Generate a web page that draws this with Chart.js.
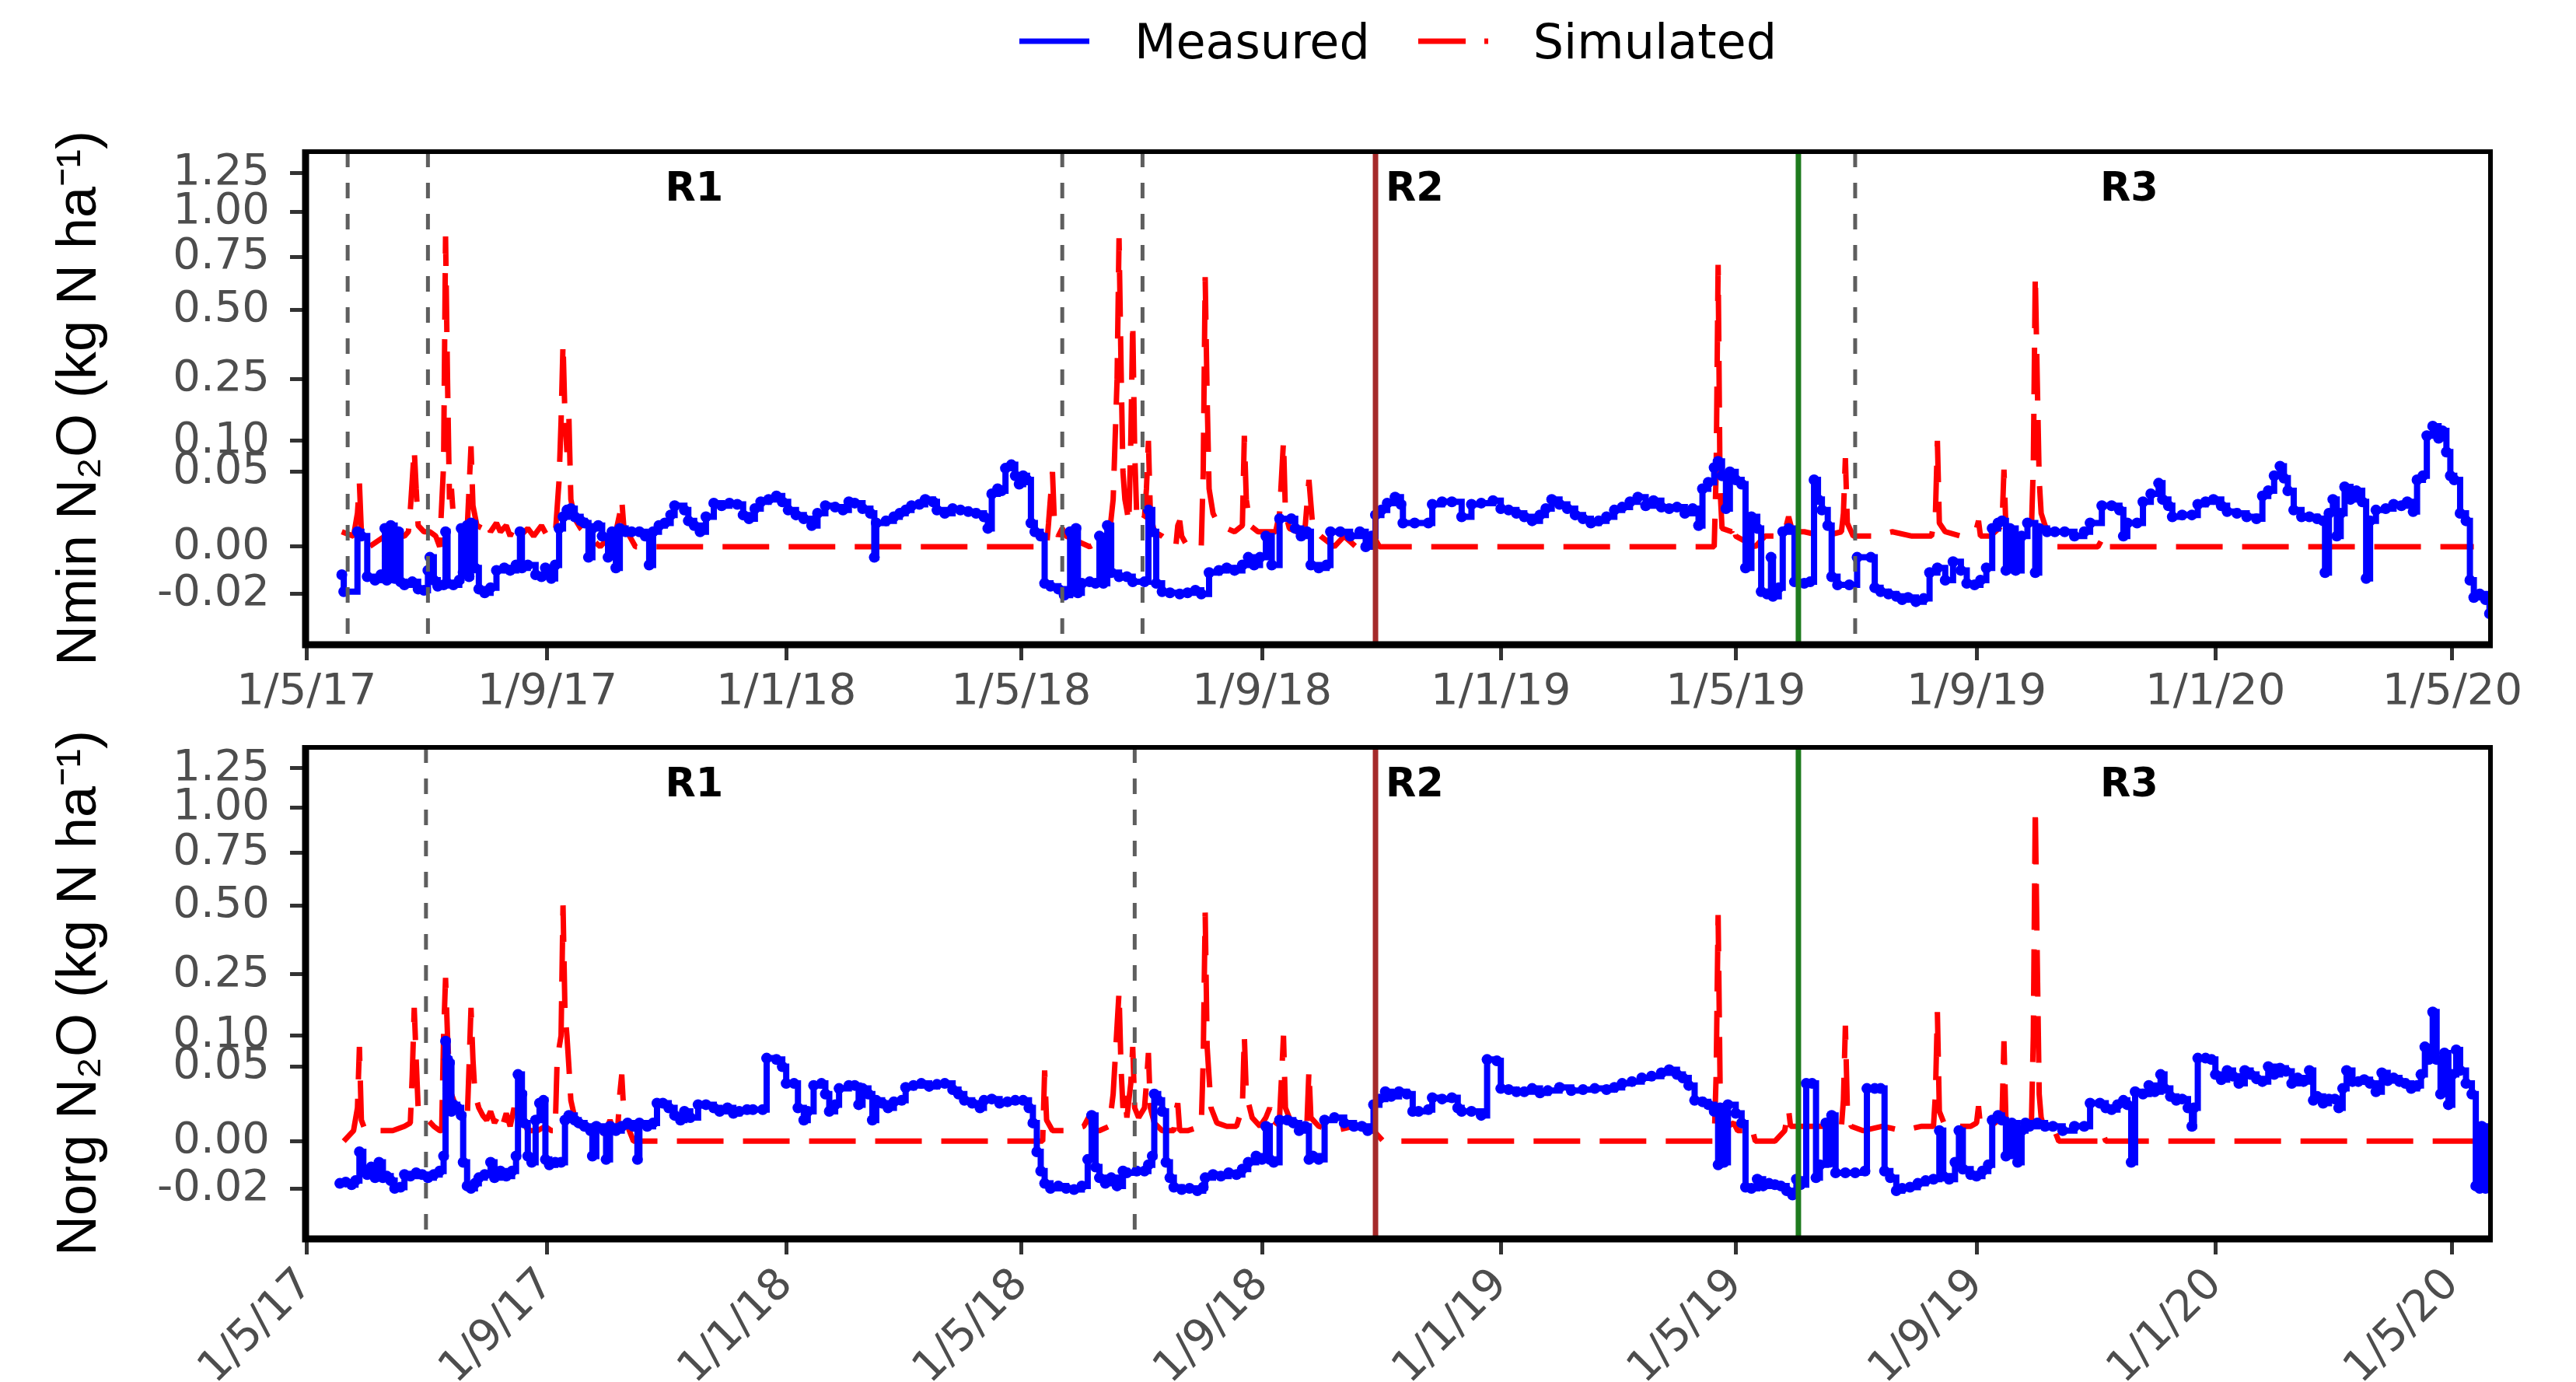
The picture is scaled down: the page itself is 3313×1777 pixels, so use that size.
<!DOCTYPE html>
<html lang="en">
<head>
<meta charset="UTF-8" />
<title>Measured vs simulated N2O flux</title>
<script src="https://cdn.jsdelivr.net/npm/chart.js"></script>
<style>
  html, body { margin: 0; padding: 0; background: #fff; }
  #wrap { position: relative; width: 3313px; height: 1777px; }
  #legend {
    position: absolute; left: 393px; width: 2810px; top: 0; height: 106px;
    display: flex; justify-content: center; align-items: center;
    font-family: 'DejaVu Sans', sans-serif; font-size: 62px; color: #000;
  }
  .key { display: flex; align-items: center; }
  .key svg { margin-right: 58px; }
  .key + .key { margin-left: 62px; }
  canvas { position: absolute; left: 0; }
  #top { top: 0; }
  #bottom { top: 930px; }
</style>
</head>
<body>
<div id="wrap">
  <div id="legend">
    <div class="key"><svg width="90" height="20"><line x1="0" y1="10" x2="90" y2="10" stroke="#0000ff" stroke-width="7"/></svg><span>Measured</span></div>
    <div class="key"><svg width="90" height="20"><line x1="0" y1="10" x2="90" y2="10" stroke="#ff0000" stroke-width="7" stroke-dasharray="61 24"/></svg><span>Simulated</span></div>
  </div>
  <canvas id="top" width="3313" height="930"></canvas>
  <canvas id="bottom" width="3313" height="847"></canvas>
</div>
<script>
// x values are days since 1 May 2017, y values in kg N ha-1
const tickDates = ['2017-05-01', '2017-09-01', '2018-01-01', '2018-05-01', '2018-09-01',
                   '2019-01-01', '2019-05-01', '2019-09-01', '2020-01-01', '2020-05-01'];
const yTicks = [-0.02, 0, 0.05, 0.10, 0.25, 0.50, 0.75, 1.00, 1.25];

const nminLines = ['2017-05-22', '2017-07-02', '2018-05-22', '2018-07-02', '2019-07-01'];
const norgLines = ['2017-07-01', '2018-06-28'];
const rotationStarts = ['2018-10-29', '2019-06-02'];   // R2, R3
const regionLabels = ['R1', 'R2', 'R3'];
const regionLabelDates = ['2017-11-15', '2018-11-18', '2019-11-18'];

const nminMeasured = [
  [18,-0.007],[19,-0.018],[26,0.002],[28,0.001],[31,-0.008],[35,-0.010],[38,-0.007],[40,0.003],
  [41,-0.010],[43,0.004],[45,-0.009],[47,0.002],[48,-0.011],[50,-0.013],[54,-0.011],[57,-0.016],
  [60,-0.017],[62,-0.005],[63,-0.001],[65,-0.010],[67,-0.014],[70,-0.013],[71,0.002],[72,-0.012],
  [75,-0.013],[78,-0.010],[79,0.003],[80,-0.006],[82,0.004],[83,-0.008],[84,0.005],[86,-0.004],
  [88,-0.016],[91,-0.019],[94,-0.015],[97,-0.005],[101,-0.004],[104,-0.005],[107,-0.003],[109,0.002],
  [110,-0.004],[113,-0.003],[117,-0.007],[120,-0.008],[122,-0.004],[125,-0.009],[127,-0.003],[129,0.003],
  [131,0.008],[133,0.012],[135,0.013],[137,0.008],[140,0.006],[142,0.005],[144,-0.001],[146,0.003],
  [149,0.004],[151,0.001],[154,-0.001],[156,0.002],[158,-0.004],[160,0.003],[163,0.002],[166,0.002],
  [170,0.002],[173,0.001],[175,-0.003],[177,0.002],[180,0.004],[183,0.005],[186,0.009],[188,0.015],
  [193,0.012],[195,0.006],[198,0.004],[201,0.002],[204,0.008],[208,0.017],[212,0.015],[216,0.017],
  [220,0.016],[223,0.009],[226,0.007],[229,0.013],[232,0.018],[236,0.020],[240,0.023],[243,0.018],
  [246,0.012],[250,0.009],[254,0.007],[258,0.004],[261,0.010],[265,0.015],[270,0.014],[274,0.012],
  [277,0.018],[280,0.017],[284,0.013],[288,0.010],[290,-0.001],[291,0.005],[296,0.006],[300,0.008],
  [303,0.010],[306,0.012],[309,0.015],[313,0.016],[316,0.020],[320,0.018],[322,0.012],[326,0.010],
  [330,0.013],[334,0.012],[338,0.011],[342,0.010],[346,0.008],[348,0.003],[350,0.025],[353,0.030],
  [355,0.028],[357,0.055],[360,0.060],[362,0.045],[364,0.035],[366,0.045],[368,0.040],[370,0.005],
  [372,0.002],[375,0.001],[377,-0.012],[380,-0.014],[384,-0.016],[387,-0.021],[390,0.002],[391,-0.018],
  [393,0.003],[394,-0.019],[396,-0.012],[400,-0.011],[403,-0.012],[405,0.001],[407,-0.012],[409,0.004],
  [411,-0.006],[415,-0.008],[419,-0.008],[422,-0.011],[428,-0.011],[430,0.012],[432,0.002],[434,-0.012],
  [437,-0.018],[441,-0.019],[446,-0.020],[450,-0.019],[454,-0.017],[457,-0.020],[461,-0.006],[466,-0.005],
  [470,-0.004],[474,-0.005],[478,-0.003],[481,-0.001],[484,-0.003],[487,-0.001],[490,0.001],[493,-0.003],
  [497,0.007],[503,0.007],[505,0.003],[508,0.001],[511,0.002],[513,-0.003],[517,-0.004],[521,-0.003],
  [523,0.002],[528,0.002],[533,0.001],[538,0.002],[541,0.000],[544,0.001],[546,0.009],[549,0.012],
  [552,0.017],[556,0.022],[559,0.016],[560,0.005],[566,0.005],[573,0.005],[575,0.016],[580,0.018],
  [585,0.018],[590,0.008],[595,0.016],[600,0.017],[606,0.019],[610,0.013],[614,0.012],[618,0.010],
  [622,0.008],[626,0.006],[630,0.009],[633,0.013],[636,0.020],[640,0.016],[644,0.013],[648,0.009],
  [652,0.007],[656,0.005],[660,0.006],[664,0.008],[668,0.012],[672,0.014],[676,0.018],[680,0.022],
  [684,0.015],[688,0.019],[692,0.014],[696,0.013],[700,0.014],[704,0.010],[708,0.013],[711,0.004],
  [713,0.030],[716,0.037],[719,0.056],[721,0.065],[723,0.045],[725,0.013],[727,0.050],[730,0.040],
  [733,0.035],[735,-0.004],[738,0.008],[741,0.003],[743,-0.018],[746,-0.020],[748,-0.001],[749,-0.022],
  [752,-0.015],[754,0.002],[757,0.003],[760,-0.011],[765,-0.012],[768,-0.011],[770,0.040],[772,0.020],
  [774,0.012],[777,0.004],[779,-0.008],[782,-0.013],[788,-0.013],[792,-0.001],[799,-0.001],[801,-0.015],
  [804,-0.018],[808,-0.020],[812,-0.022],[815,-0.025],[818,-0.023],[822,-0.027],[826,-0.024],[829,-0.006],
  [833,-0.004],[837,-0.010],[841,-0.002],[845,-0.005],[848,-0.012],[852,-0.013],[855,-0.010],[858,-0.004],
  [861,0.003],[864,0.005],[866,0.006],[868,-0.005],[870,0.003],[873,-0.005],[876,0.001],[879,0.005],
  [883,-0.006],[885,0.003],[889,0.002],[893,0.002],[898,0.002],[903,0.001],[908,0.002],[911,0.005],
  [917,0.015],[922,0.015],[926,0.012],[928,0.001],[930,0.005],[935,0.005],[938,0.018],[942,0.025],
  [946,0.036],[948,0.020],[951,0.015],[953,0.008],[958,0.009],[963,0.009],[966,0.016],[970,0.018],
  [974,0.020],[978,0.015],[981,0.011],[986,0.010],[991,0.008],[996,0.007],[999,0.023],[1002,0.028],
  [1005,0.045],[1008,0.058],[1010,0.042],[1012,0.028],[1015,0.012],[1019,0.008],[1023,0.008],[1027,0.007],
  [1030,0.006],[1031,-0.006],[1033,0.010],[1035,0.020],[1037,0.001],[1039,0.010],[1041,0.032],[1044,0.020],
  [1047,0.028],[1050,0.018],[1052,-0.009],[1054,0.006],[1057,0.012],[1062,0.013],[1066,0.016],[1070,0.015],
  [1073,0.018],[1076,0.011],[1078,0.040],[1081,0.045],[1083,0.110],[1086,0.130],[1089,0.105],[1091,0.120],
  [1093,0.080],[1095,0.045],[1097,0.040],[1100,0.010],[1103,0.006],[1105,-0.010],[1107,-0.023],[1110,-0.020],
  [1113,-0.025],[1115,-0.040]
];

const nminSimulated = [
  [18,0.002],[24,0.001],[26,0.010],[27,0.036],[28,0.002],[32,0.000],[40,0.001],[45,0.001],[50,0.001],
  [52,0.002],[53,0.012],[54,0.040],[55,0.085],[56,0.030],[57,0.004],[60,0.002],[63,0.002],[66,0.001],
  [68,0.000],[70,0.060],[71,0.860],[72,0.250],[73,0.020],[74,0.030],[75,0.008],[78,0.005],[80,0.003],
  [82,0.002],[83,0.030],[84,0.090],[85,0.015],[87,0.004],[90,0.003],[92,0.006],[94,0.002],[97,0.005],
  [99,0.002],[102,0.004],[104,0.001],[107,0.005],[109,0.001],[113,0.003],[116,0.001],[120,0.004],
  [123,0.001],[127,0.001],[129,0.040],[130,0.140],[131,0.370],[132,0.150],[133,0.080],[134,0.150],
  [135,0.020],[137,0.007],[140,0.003],[144,0.001],[150,0.000],[155,0.001],[158,0.002],[160,0.010],
  [161,0.020],[162,0.004],[165,0.001],[168,0.000],[378,0.000],[379,0.005],[381,0.050],[382,0.005],
  [384,0.001],[386,0.003],[388,0.001],[400,0.000],[410,0.001],[412,0.020],[414,0.250],[415,0.850],
  [416,0.300],[417,0.050],[418,0.020],[419,0.012],[420,0.005],[421,0.100],[422,0.450],[423,0.080],
  [424,0.010],[426,0.005],[428,0.008],[429,0.030],[430,0.100],[431,0.010],[433,0.002],[437,0.001],
  [444,0.000],[445,0.004],[446,0.006],[447,0.001],[450,0.000],[457,0.000],[458,0.050],[459,0.650],
  [460,0.200],[461,0.030],[463,0.010],[466,0.004],[470,0.003],[474,0.002],[478,0.004],[479,0.110],
  [480,0.020],[482,0.004],[486,0.002],[490,0.002],[495,0.002],[497,0.010],[499,0.100],[500,0.010],
  [502,0.003],[506,0.002],[510,0.003],[512,0.040],[514,0.003],[518,0.001],[525,0.000],[530,0.001],
  [536,0.000],[545,0.001],[548,0.000],[719,0.000],[720,0.050],[721,0.710],[722,0.030],[723,0.003],
  [728,0.002],[729,0.005],[730,0.001],[740,0.000],[745,0.001],[752,0.001],[755,0.002],[757,0.008],
  [759,0.002],[765,0.002],[775,0.001],[784,0.002],[785,0.010],[786,0.070],[787,0.005],[790,0.001],
  [800,0.001],[810,0.002],[820,0.001],[830,0.001],[832,0.010],[833,0.100],[834,0.005],[837,0.002],
  [845,0.001],[850,0.002],[853,0.003],[854,0.006],[855,0.001],[860,0.001],[866,0.004],[867,0.053],
  [868,0.003],[872,0.001],[878,0.001],[881,0.002],[882,0.060],[883,0.660],[884,0.250],[885,0.040],
  [886,0.010],[888,0.004],[890,0.002],[893,0.000],[915,0.000],[918,0.001],[920,0.000],[1107,0.000]
];

const norgMeasured = [
  [17,-0.016],[20,-0.015],[23,-0.017],[25,-0.014],[27,-0.001],[29,-0.008],[31,-0.010],[33,-0.006],
  [35,-0.012],[37,-0.004],[39,-0.012],[41,-0.011],[43,-0.014],[45,-0.020],[48,-0.019],[50,-0.010],
  [53,-0.011],[56,-0.009],[59,-0.010],[62,-0.012],[65,-0.010],[68,-0.008],[70,-0.002],[71,0.090],
  [72,0.060],[73,0.055],[74,0.008],[75,0.012],[77,0.010],[79,0.006],[80,-0.004],[82,-0.018],
  [84,-0.020],[86,-0.016],[88,-0.012],[91,-0.010],[94,-0.004],[96,-0.012],[99,-0.008],[102,-0.011],
  [105,-0.008],[107,-0.002],[108,0.040],[110,0.020],[111,0.003],[113,-0.002],[115,-0.004],[117,0.004],
  [119,0.013],[121,0.015],[122,-0.003],[124,-0.005],[127,-0.004],[130,-0.004],[132,0.004],[134,0.006],
  [137,0.004],[139,0.003],[142,0.002],[145,0.001],[146,-0.002],[148,0.002],[152,0.001],[153,-0.003],
  [155,0.002],[158,0.001],[161,0.002],[164,0.003],[167,0.002],[169,-0.003],[170,0.003],[174,0.002],
  [177,0.003],[179,0.013],[182,0.013],[185,0.010],[188,0.006],[191,0.004],[193,0.008],[196,0.005],
  [200,0.012],[204,0.012],[208,0.010],[211,0.008],[215,0.010],[218,0.007],[221,0.008],[225,0.009],
  [228,0.009],[233,0.009],[235,0.062],[240,0.060],[243,0.050],[245,0.030],[249,0.030],[251,0.010],
  [254,0.004],[256,0.008],[259,0.028],[263,0.030],[265,0.020],[267,0.008],[270,0.012],[272,0.025],
  [277,0.028],[280,0.028],[282,0.012],[284,0.025],[287,0.020],[289,0.004],[291,0.015],[294,0.013],
  [297,0.010],[300,0.014],[304,0.015],[306,0.026],[310,0.028],[314,0.030],[318,0.027],[322,0.029],
  [326,0.030],[330,0.024],[333,0.020],[336,0.015],[340,0.013],[344,0.010],[346,0.015],[350,0.016],
  [354,0.013],[358,0.014],[362,0.015],[366,0.015],[369,0.010],[371,0.003],[373,-0.001],[375,-0.008],
  [377,-0.016],[380,-0.020],[384,-0.018],[388,-0.020],[392,-0.021],[396,-0.018],[399,-0.003],[401,0.006],
  [403,-0.006],[405,-0.012],[408,-0.016],[411,-0.012],[414,-0.018],[417,-0.008],[419,-0.009],[424,-0.008],
  [428,-0.008],[430,-0.005],[432,-0.002],[433,0.020],[435,0.015],[437,0.008],[439,-0.004],[441,-0.012],
  [443,-0.019],[447,-0.021],[451,-0.020],[455,-0.022],[458,-0.019],[459,-0.012],[463,-0.010],[467,-0.011],
  [471,-0.009],[475,-0.010],[478,-0.007],[481,-0.004],[485,-0.002],[488,-0.003],[490,0.002],[492,-0.003],
  [494,-0.004],[497,0.004],[501,0.004],[504,0.003],[507,0.001],[510,0.002],[512,-0.003],[514,-0.002],
  [517,-0.003],[520,0.004],[525,0.005],[530,0.003],[535,0.002],[539,0.002],[542,0.001],[545,0.012],
  [548,0.016],[551,0.022],[554,0.018],[558,0.022],[562,0.020],[565,0.008],[568,0.008],[573,0.009],
  [575,0.017],[580,0.016],[585,0.017],[588,0.010],[590,0.008],[595,0.008],[600,0.006],[603,0.060],
  [608,0.058],[610,0.025],[614,0.024],[618,0.022],[622,0.022],[626,0.025],[630,0.021],[634,0.023],
  [640,0.026],[646,0.023],[652,0.024],[658,0.025],[664,0.024],[668,0.026],[672,0.030],[677,0.032],
  [682,0.036],[687,0.038],[692,0.042],[696,0.046],[700,0.040],[703,0.036],[706,0.028],[709,0.015],
  [713,0.014],[716,0.012],[719,0.008],[721,-0.005],[722,0.010],[724,-0.004],[726,0.012],[730,0.007],
  [733,0.003],[735,-0.019],[738,-0.020],[741,-0.013],[744,-0.018],[747,-0.016],[750,-0.017],[753,-0.018],
  [756,-0.022],[759,-0.026],[761,-0.013],[763,-0.017],[766,0.030],[769,0.030],[771,-0.012],[773,-0.005],
  [776,0.003],[778,-0.004],[779,0.006],[781,-0.009],[786,-0.009],[791,-0.009],[796,-0.008],[797,0.025],
  [801,0.025],[804,0.025],[806,-0.008],[809,-0.012],[812,-0.022],[815,-0.020],[819,-0.019],[823,-0.016],
  [827,-0.014],[831,-0.013],[834,0.001],[836,-0.011],[839,-0.013],[842,-0.004],[844,0.001],[846,-0.007],
  [850,-0.010],[853,-0.011],[856,-0.008],[859,-0.005],[861,0.004],[864,0.006],[866,0.004],[868,-0.002],
  [871,0.003],[874,-0.004],[876,0.001],[878,0.003],[880,0.002],[884,0.003],[888,0.002],[892,0.002],
  [897,0.001],[903,0.002],[908,0.002],[911,0.013],[916,0.013],[919,0.010],[922,0.009],[925,0.012],
  [928,0.015],[930,0.012],[932,-0.004],[934,0.022],[938,0.020],[941,0.028],[944,0.022],[947,0.040],
  [949,0.025],[952,0.018],[955,0.015],[958,0.016],[961,0.010],[963,0.002],[964,0.010],[966,0.062],
  [970,0.062],[973,0.060],[975,0.040],[978,0.034],[981,0.045],[984,0.038],[987,0.030],[990,0.045],
  [993,0.040],[996,0.035],[999,0.032],[1002,0.050],[1005,0.040],[1008,0.048],[1011,0.044],[1014,0.030],
  [1017,0.036],[1020,0.032],[1023,0.045],[1025,0.015],[1027,0.018],[1030,0.013],[1033,0.016],[1036,0.016],
  [1038,0.010],[1040,0.025],[1042,0.045],[1045,0.032],[1048,0.032],[1051,0.034],[1054,0.030],[1057,0.022],
  [1060,0.042],[1063,0.033],[1066,0.036],[1069,0.032],[1072,0.030],[1075,0.025],[1078,0.028],[1080,0.040],
  [1082,0.080],[1084,0.060],[1086,0.150],[1088,0.060],[1090,0.020],[1092,0.070],[1094,0.012],[1096,0.040],
  [1098,0.075],[1100,0.045],[1103,0.030],[1106,0.020],[1108,-0.018],[1110,-0.020],[1111,0.002],[1113,-0.020],
  [1115,-0.018]
];

const norgSimulated = [
  [19,0.000],[24,0.001],[26,0.010],[27,0.080],[28,0.004],[30,0.001],[38,0.001],[44,0.001],[50,0.002],
  [53,0.003],[54,0.040],[55,0.160],[56,0.060],[57,0.010],[59,0.008],[62,0.004],[65,0.002],[68,0.001],
  [69,0.001],[70,0.100],[71,0.240],[72,0.100],[73,0.040],[74,0.020],[76,0.012],[78,0.007],[80,0.005],
  [82,0.003],[83,0.050],[84,0.160],[85,0.060],[86,0.020],[88,0.010],[90,0.006],[92,0.004],[94,0.008],
  [96,0.003],[98,0.006],[100,0.002],[102,0.007],[104,0.002],[106,0.010],[107,0.002],[110,0.005],
  [113,0.001],[118,0.001],[122,0.002],[125,0.001],[127,0.001],[128,0.060],[130,0.100],[131,0.500],
  [132,0.150],[133,0.100],[134,0.050],[135,0.015],[137,0.005],[140,0.002],[145,0.001],[150,0.000],
  [153,0.001],[155,0.004],[157,0.001],[159,0.002],[160,0.020],[161,0.040],[162,0.008],[164,0.002],
  [167,0.000],[376,0.000],[377,0.045],[378,0.004],[381,0.001],[390,0.001],[397,0.002],[400,0.006],
  [401,0.001],[405,0.001],[410,0.002],[412,0.020],[414,0.120],[415,0.200],[416,0.050],[417,0.010],
  [418,0.020],[419,0.005],[421,0.030],[422,0.080],[423,0.010],[425,0.005],[428,0.010],[429,0.030],
  [430,0.070],[431,0.010],[433,0.003],[437,0.001],[443,0.001],[444,0.008],[445,0.013],[446,0.001],
  [450,0.001],[457,0.002],[458,0.060],[459,0.470],[460,0.080],[462,0.010],[465,0.003],[470,0.002],
  [475,0.002],[478,0.010],[479,0.100],[480,0.020],[483,0.005],[487,0.002],[490,0.005],[492,0.010],
  [494,0.002],[497,0.005],[499,0.100],[500,0.010],[503,0.003],[507,0.002],[511,0.003],[512,0.045],
  [513,0.005],[517,0.002],[525,0.001],[535,0.002],[545,0.001],[550,0.000],[719,0.000],[720,0.040],
  [721,0.460],[722,0.030],[723,0.003],[726,0.002],[729,0.003],[731,0.001],[736,0.001],[738,0.002],
  [740,0.000],[750,0.000],[755,0.001],[757,0.009],[758,0.002],[762,0.002],[770,0.002],[780,0.002],
  [784,0.002],[785,0.015],[786,0.120],[787,0.010],[789,0.002],[795,0.001],[805,0.002],[815,0.001],
  [825,0.002],[831,0.002],[832,0.020],[833,0.150],[834,0.008],[837,0.002],[845,0.002],[850,0.002],
  [853,0.003],[854,0.011],[855,0.002],[860,0.002],[866,0.005],[867,0.090],[868,0.004],[872,0.001],
  [878,0.001],[881,0.002],[882,0.100],[883,1.000],[884,0.300],[885,0.020],[886,0.005],[888,0.001],
  [892,0.002],[895,0.000],[915,0.000],[917,0.001],[919,0.000],[1111,0.000]
];

const DAY = 86400000;
const ORIGIN = Date.UTC(2017, 4, 1);
function dayOf(iso) {
  const [y, m, d] = iso.split('-').map(Number);
  return (Date.UTC(y, m - 1, d) - ORIGIN) / DAY;
}
function shortDate(iso) {
  const [y, m, d] = iso.split('-').map(Number);
  return d + '/' + m + '/' + String(y).slice(2);
}
// signed square-root axis, as in the original figure
const sq = v => Math.sign(v) * Math.sqrt(Math.abs(v));

const tickDays = tickDates.map(dayOf);
const tickFont = { family: 'DejaVu Sans', size: 56 };
const greyText = '#4d4d4d';

// grey management lines, rotation boundaries and R labels
const markers = {
  id: 'markers',
  afterDatasetsDraw(chart, args, opts) {
    const { ctx, chartArea: a, scales: { x } } = chart;
    ctx.save();
    ctx.beginPath();
    ctx.rect(a.left, a.top, a.right - a.left, a.bottom - a.top);
    ctx.clip();
    const vline = (day, color, width, dash) => {
      const px = x.getPixelForValue(day);
      ctx.beginPath();
      ctx.setLineDash(dash);
      ctx.strokeStyle = color;
      ctx.lineWidth = width;
      ctx.moveTo(px, a.top);
      ctx.lineTo(px, a.bottom);
      ctx.stroke();
    };
    opts.dashed.forEach(d => vline(dayOf(d), '#5e5e5e', 5, [20, 20]));
    vline(dayOf(rotationStarts[0]), '#a52a2a', 7, []);
    vline(dayOf(rotationStarts[1]), '#1e7b1e', 7, []);
    ctx.setLineDash([]);
    ctx.fillStyle = '#000';
    ctx.font = 'bold 51px "DejaVu Sans"';
    ctx.textAlign = 'center';
    ctx.textBaseline = 'middle';
    regionLabels.forEach((t, i) => {
      ctx.fillText(t, x.getPixelForValue(dayOf(regionLabelDates[i])), a.top + 50);
    });
    ctx.restore();
  }
};

// panel border with heavier left/bottom axis lines
const frame = {
  id: 'frame',
  afterDraw(chart) {
    const { ctx, chartArea: a } = chart;
    ctx.save();
    ctx.strokeStyle = '#000';
    ctx.lineWidth = 6;
    ctx.strokeRect(a.left, a.top, a.right - a.left, a.bottom - a.top);
    ctx.lineWidth = 9;
    ctx.beginPath();
    ctx.moveTo(a.left, a.top - 3);
    ctx.lineTo(a.left, a.bottom);
    ctx.lineTo(a.right + 3, a.bottom);
    ctx.stroke();
    ctx.restore();
  }
};

function panel(id, cfg) {
  return new Chart(document.getElementById(id), {
    type: 'line',
    data: {
      datasets: [
        {
          label: 'Measured',
          data: cfg.measured.map(([d, v]) => ({ x: d, y: sq(v) })),
          borderColor: '#0000ff',
          backgroundColor: '#0000ff',
          borderWidth: 8,
          pointRadius: 7,
          pointBorderWidth: 0,
          stepped: true
        },
        {
          label: 'Simulated',
          data: cfg.simulated.map(([d, v]) => ({ x: d, y: sq(v) })),
          borderColor: '#ff0000',
          borderWidth: 7,
          borderDash: [60, 25],
          borderJoinStyle: 'bevel',
          pointRadius: 0,
          tension: 0
        }
      ]
    },
    options: {
      responsive: false,
      animation: false,
      devicePixelRatio: 1,
      layout: { padding: { left: 0, right: 110, top: cfg.top, bottom: 0 } },
      plugins: {
        legend: { display: false },
        tooltip: { enabled: false },
        markers: { dashed: cfg.dashed }
      },
      scales: {
        x: {
          type: 'linear',
          min: -0.5,
          max: 1115.5,
          afterBuildTicks: s => { s.ticks = tickDays.map(v => ({ value: v })); },
          afterFit: s => { s.height = cfg.xHeight; s.paddingLeft = 0; s.paddingRight = 0; },
          ticks: {
            autoSkip: false,
            minRotation: cfg.rot,
            maxRotation: cfg.rot,
            padding: cfg.rot ? 6 : 8,
            font: tickFont,
            color: greyText,
            callback: (v, i) => shortDate(tickDates[i])
          },
          grid: { drawOnChartArea: false, drawTicks: true, tickLength: 20, color: '#333', lineWidth: 5 },
          border: { display: false }
        },
        y: {
          type: 'linear',
          min: -0.293,
          max: 1.181,
          afterBuildTicks: s => { s.ticks = yTicks.map(v => ({ value: sq(v) })); },
          afterFit: s => { s.width = 393; s.paddingTop = 0; s.paddingBottom = 0; },
          ticks: {
            padding: 26,
            font: tickFont,
            color: greyText,
            callback: (v, i) => yTicks[i].toFixed(2)
          },
          title: {
            display: true,
            text: cfg.title,
            color: '#000',
            font: { family: "'Liberation Sans', Arial, sans-serif", size: 72 },
            padding: { top: 60, bottom: 0 }
          },
          grid: { drawOnChartArea: false, drawTicks: true, tickLength: 20, color: '#333', lineWidth: 5 },
          border: { display: false }
        }
      }
    },
    plugins: [markers, frame]
  });
}

panel('top', {
  measured: nminMeasured, simulated: nminSimulated, dashed: nminLines,
  title: 'Nmin N\u2082O (kg N ha\u207B\u00B9)', top: 195, xHeight: 101, rot: 0
});
panel('bottom', {
  measured: norgMeasured, simulated: norgSimulated, dashed: norgLines,
  title: 'Norg N\u2082O (kg N ha\u207B\u00B9)', top: 31, xHeight: 184, rot: 45
});
</script>
</body>
</html>
